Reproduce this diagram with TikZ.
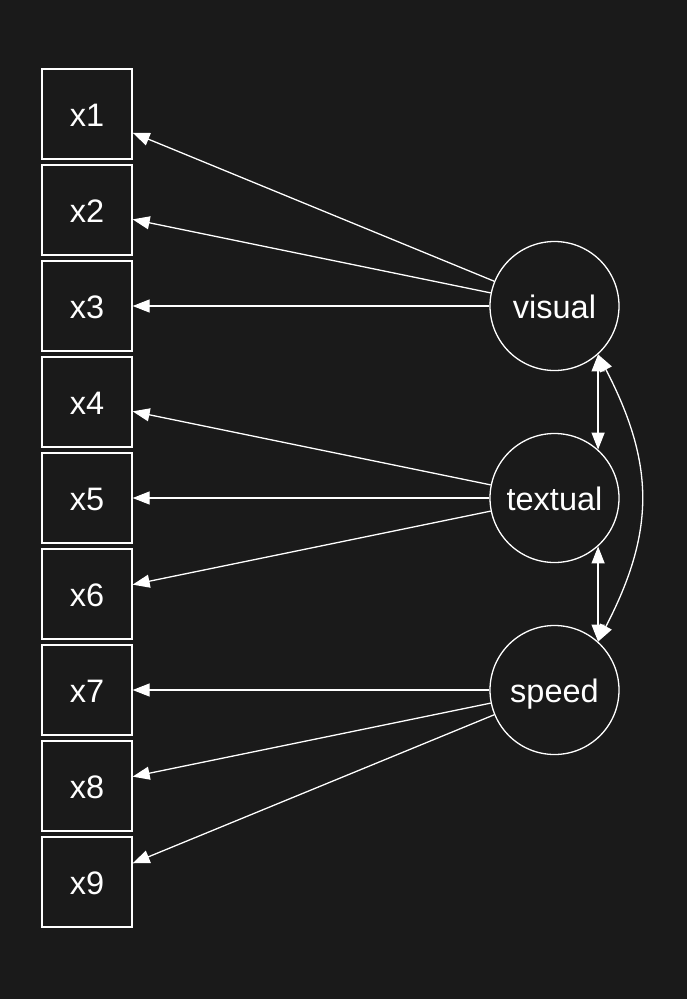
\documentclass[tikz,border=0pt]{standalone}
\usepackage{fontspec}
\setmainfont{Liberation Sans}
\usetikzlibrary{arrows.meta}
\definecolor{bgdark}{HTML}{1A1A1A}

\begin{document}
\begin{tikzpicture}[x=1pt, y=-1pt,
  obs/.style={draw=white, line width=1.3pt, minimum size=90pt, inner sep=0pt, text=white, text height=24pt, text depth=0pt, font=\fontsize{32.5}{38}\selectfont},
  lat/.style={circle, draw=white, line width=1.3pt, minimum size=129pt, inner sep=0pt, text=white, text height=24pt, text depth=0pt, font=\fontsize{32.5}{38}\selectfont},
  load/.style={draw=white, line width=1.3pt, -{Triangle[length=17pt, width=13pt]}},
  cov/.style={draw=white, line width=1.3pt, {Triangle[length=17pt, width=13pt]}-{Triangle[length=17pt, width=13pt]}}]

% Background
\fill[bgdark] (0, 0) rectangle (687, 999);

% Observed variables
\node[obs] (x1) at (87, 114) {x1};
\node[obs] (x2) at (87, 210) {x2};
\node[obs] (x3) at (87, 306) {x3};
\node[obs] (x4) at (87, 402) {x4};
\node[obs] (x5) at (87, 498) {x5};
\node[obs] (x6) at (87, 594) {x6};
\node[obs] (x7) at (87, 690) {x7};
\node[obs] (x8) at (87, 786) {x8};
\node[obs] (x9) at (87, 882) {x9};

% Latent factors
\node[lat] (visual) at (554.5, 306) {visual};
\node[lat] (textual) at (554.5, 498) {textual};
\node[lat] (speed) at (554.5, 690) {speed};

% Loadings
\draw[load] (visual) -- (x1);
\draw[load] (visual) -- (x2);
\draw[load] (visual) -- (x3);
\draw[load] (textual) -- (x4);
\draw[load] (textual) -- (x5);
\draw[load] (textual) -- (x6);
\draw[load] (speed) -- (x7);
\draw[load] (speed) -- (x8);
\draw[load] (speed) -- (x9);

% Covariances
\draw[cov] (visual.-48) -- (textual.48);
\draw[cov] (textual.-48) -- (speed.48);
\draw[cov] (visual.-48) .. controls +(57, 110) and +(57, -110) .. (speed.48);
\end{tikzpicture}
\end{document}
